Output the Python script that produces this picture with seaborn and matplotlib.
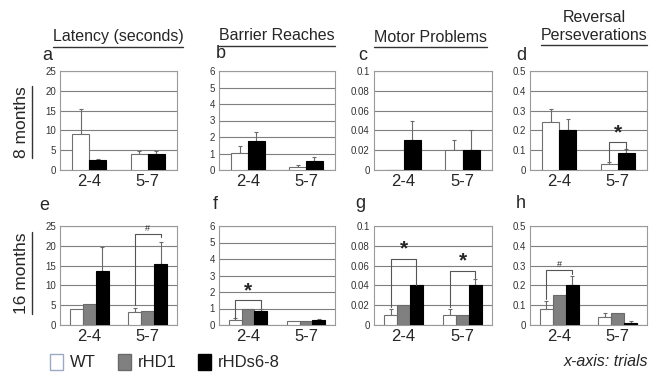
import numpy as np
import pandas as pd
import matplotlib
matplotlib.use('Agg')
import matplotlib.pyplot as plt
from matplotlib.patches import Patch
from matplotlib.lines import Line2D
from matplotlib.ticker import FuncFormatter
import seaborn as sns

# Categories
TRIALS = ['2-4', '5-7']
GROUPS_8M = ['WT', 'rHDs6-8']
GROUPS_16M = ['WT', 'rHD1', 'rHDs6-8']
MEASURES = ['Latency (seconds)', 'Barrier Reaches', 'Motor Problems', 'Reversal\nPerseverations']
Y_MAX = [25, 6, 0.1, 0.5]
Y_STEP = [5, 1, 0.02, 0.1]

# 8 months (per measure: [2-4, 5-7]); *_top = top of the error bar
m8_wt = [[9.0, 4.1], [1.05, 0.2], [0.0, 0.02], [0.24, 0.03]]
m8_wt_top = [[15.3, 4.8], [1.45, 0.3], [np.nan, 0.03], [0.31, 0.04]]
m8_hd68 = [[2.5, 4.0], [1.75, 0.55], [0.03, 0.02], [0.20, 0.085]]
m8_hd68_top = [[2.7, 4.9], [2.3, 0.8], [0.05, 0.04], [0.26, 0.105]]

# 16 months
m16_wt = [[4.1, 3.3], [0.3, 0.22], [0.01, 0.01], [0.08, 0.04]]
m16_wt_top = [[np.nan, 4.3], [0.4, np.nan], [0.016, 0.016], [0.12, 0.06]]
m16_hd1 = [[5.2, 3.6], [1.0, 0.25], [0.02, 0.01], [0.15, 0.06]]
m16_hd1_top = [[np.nan, np.nan], [np.nan, np.nan], [np.nan, np.nan], [np.nan, np.nan]]
m16_hd68 = [[13.6, 15.5], [0.85, 0.3], [0.04, 0.04], [0.2, 0.01]]
m16_hd68_top = [[19.8, 21.0], [1.0, 0.35], [np.nan, 0.046], [0.25, 0.02]]

# Significance brackets: (row, col, trial, left bottom, right bottom, top, symbol)
BRACKETS = [
    (0, 3, '5-7', 0.045, 0.1, 0.14, '*'),
    (1, 0, '5-7', 5.0, 22.2, 22.9, '#'),
    (1, 1, '2-4', 0.45, 1.05, 1.5, '*'),
    (1, 2, '2-4', 0.018, 0.04, 0.067, '*'),
    (1, 2, '5-7', 0.018, 0.047, 0.055, '*'),
    (1, 3, '2-4', 0.13, 0.26, 0.28, '#'),
]

PALETTE = {'WT': 'white', 'rHD1': '#808080', 'rHDs6-8': 'black'}
EDGES = {'WT': '#6f6f6f', 'rHD1': '#6a6a6a', 'rHDs6-8': 'black'}

sns.set_style('white')
plt.rcParams['font.family'] = ['Liberation Sans', 'DejaVu Sans']


def panel_frame(groups, values, tops):
    rows = []
    for g, v, t in zip(groups, values, tops):
        for trial, vi, ti in zip(TRIALS, v, t):
            rows.append(dict(trial=trial, group=g, value=vi, err_top=ti))
    return pd.DataFrame(rows)


fig = plt.figure(figsize=(6.49, 3.75), dpi=100)
W, H = 649, 375
lefts = [60, 219, 374, 530]
widths = [117, 116, 118, 117]
tops = [71, 226]
axes = {}

for r in range(2):
    for c in range(4):
        ax = fig.add_axes([lefts[c] / W, 1 - (tops[r] + 99) / H, widths[c] / W, 99 / H])
        axes[(r, c)] = ax
        if r == 0:
            groups = GROUPS_8M
            df = panel_frame(groups, [m8_wt[c], m8_hd68[c]], [m8_wt_top[c], m8_hd68_top[c]])
            bw = 0.58
        else:
            groups = GROUPS_16M
            df = panel_frame(groups, [m16_wt[c], m16_hd1[c], m16_hd68[c]],
                             [m16_wt_top[c], m16_hd1_top[c], m16_hd68_top[c]])
            bw = 0.66
        sns.barplot(data=df, x='trial', y='value', hue='group', order=TRIALS,
                    hue_order=groups, palette=PALETTE, width=bw, errorbar=None,
                    saturation=1, legend=False, ax=ax, zorder=3)
        # bar edges + error bars (upper only)
        centers = {}
        bar_containers = list(ax.containers)
        for gi, cont in enumerate(bar_containers):
            g = groups[gi]
            for ti, bar in enumerate(cont):
                bar.set_edgecolor(EDGES[g])
                bar.set_linewidth(0.8)
                xc = bar.get_x() + bar.get_width() / 2
                centers[(g, TRIALS[ti])] = xc
                row = df[(df.group == g) & (df.trial == TRIALS[ti])].iloc[0]
                if not np.isnan(row.err_top):
                    ax.errorbar(xc, row.value, yerr=[[0], [row.err_top - row.value]],
                                fmt='none', ecolor='#6a6a6a', elinewidth=0.8,
                                capsize=1.5, capthick=0.8, zorder=2)
        axes[(r, c, 'centers')] = centers

        ax.set_ylim(0, Y_MAX[c])
        ax.set_xlim(-0.5, 1.5)
        ax.set_yticks(np.arange(0, Y_MAX[c] + Y_STEP[c] / 2, Y_STEP[c]))
        ax.yaxis.set_major_formatter(FuncFormatter(lambda v, _: f'{v:g}'))
        ax.yaxis.grid(True, color='#7f7f7f', linewidth=0.8)
        ax.set_axisbelow(True)
        ax.tick_params(axis='y', length=0, labelsize=7, pad=3, labelcolor='#333333')
        ax.tick_params(axis='x', length=0, labelsize=12, pad=3)
        ax.set_xlabel('')
        ax.set_ylabel('')
        for s in ax.spines.values():
            s.set_color('#9a9a9a')
            s.set_linewidth(0.8)

for (r, c, trial, lb, rb, top, sym) in BRACKETS:
    ax = axes[(r, c)]
    centers = axes[(r, c, 'centers')]
    x0 = centers[('WT', trial)]
    x1 = centers[('rHDs6-8', trial)]
    ax.plot([x0, x0, x1, x1], [lb, top, top, rb], color='#555555', lw=0.8, zorder=4,
            clip_on=False)
    if sym == '*':
        ax.text((x0 + x1) / 2, top, '*', ha='center', va='bottom', fontsize=15,
                fontweight='bold', zorder=5)
    else:
        ax.text((x0 + x1) / 2, top + Y_MAX[c] * 0.01, '#', ha='center', va='bottom',
                fontsize=6.5, zorder=5)

# Column titles
title_pos = [(118, 37), (277, 36), (430, 37), (594, 26)]
titles = []
for (x, y), name in zip(title_pos, MEASURES):
    titles.append(fig.text(x / W, 1 - y / H, name, ha='center', va='center',
                           fontsize=11.5, linespacing=1.25))

# Panel letters
letters = ['a', 'b', 'c', 'd', 'e', 'f', 'g', 'h']
letter_pos = [(47, 56), (221, 54), (363, 55), (521, 55),
              (44, 205), (215, 204), (360, 203), (521, 203)]
for lt, (x, y) in zip(letters, letter_pos):
    fig.text(x / W, 1 - y / H, lt, ha='center', va='center', fontsize=13)

# Row labels
row_labels = [fig.text(22 / W, 1 - 122 / H, '8 months', rotation=90, ha='center',
                       va='center', fontsize=12.5),
              fig.text(22 / W, 1 - 273 / H, '16 months', rotation=90, ha='center',
                       va='center', fontsize=12.5)]

# Underlines
fig.canvas.draw()
renderer = fig.canvas.get_renderer()
inv = fig.transFigure.inverted()
for t in titles:
    bb = t.get_window_extent(renderer).transformed(inv)
    y = bb.y0 - 2 / H
    fig.add_artist(Line2D([bb.x0, bb.x1], [y, y], color='#333333', lw=1.0))
for t in row_labels:
    bb = t.get_window_extent(renderer).transformed(inv)
    x = bb.x1 + 2 / W
    fig.add_artist(Line2D([x, x], [bb.y0, bb.y1], color='#333333', lw=1.0))

# Legend
handles = [Patch(facecolor='white', edgecolor='#9aaac4', label='WT'),
           Patch(facecolor='#808080', edgecolor='#6a6a6a', label='rHD1'),
           Patch(facecolor='black', edgecolor='black', label='rHDs6-8')]
fig.legend(handles=handles, loc='center left', bbox_to_anchor=(50 / W, 1 - 362 / H),
           ncol=3, frameon=False, fontsize=12, handlelength=0.8, handleheight=1.1,
           handletextpad=0.4, columnspacing=1.3, borderaxespad=0, borderpad=0)
fig.text(648 / W, 1 - 362 / H, 'x-axis: trials', ha='right', va='center',
         fontsize=11.5, style='italic')

fig.savefig('out.png', dpi=100)
